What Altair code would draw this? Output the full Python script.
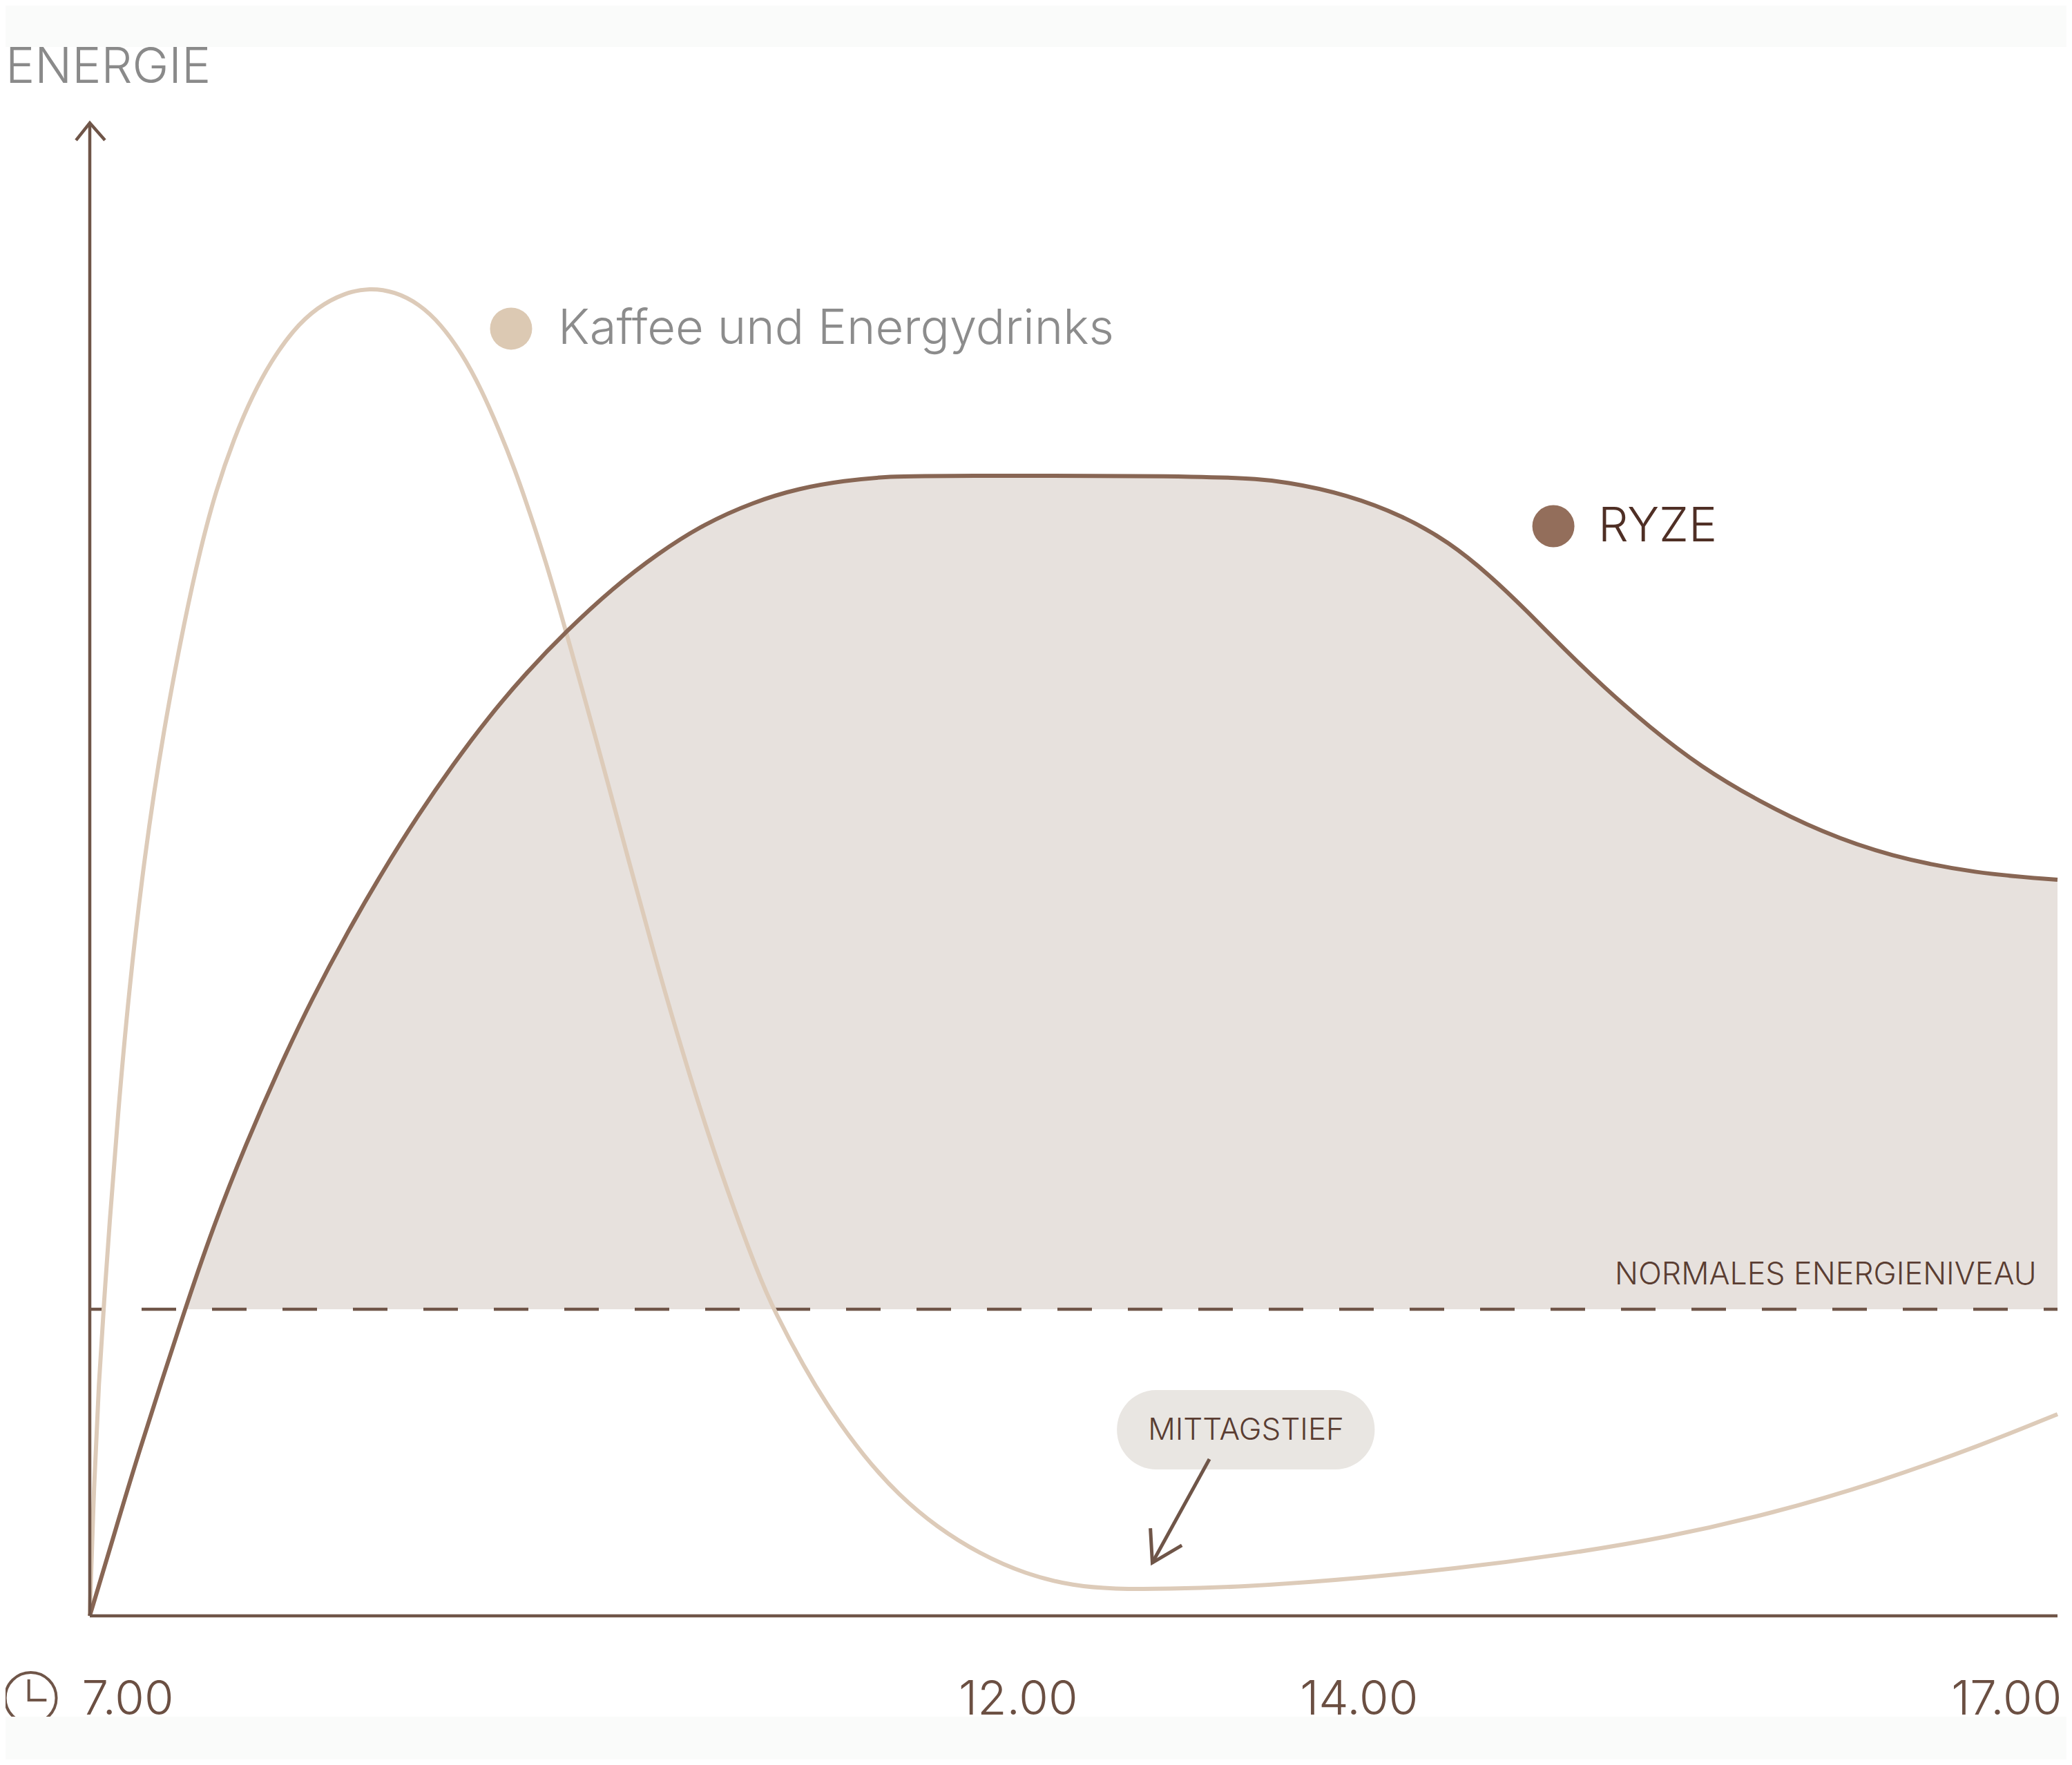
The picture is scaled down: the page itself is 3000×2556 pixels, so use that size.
import altair as alt
import pandas as pd

# Energy curves: hour of the day, energy level
ryze_h = [7.0,7.116,7.232,7.484,7.628,7.79,7.969,8.13,8.309,8.488,8.667,8.846,9.025,9.222,9.422,9.657,9.889,10.12,10.373,10.605,10.836,11.054,11.282,12.802,13.093,13.385,13.676,13.908,14.111,14.315,14.49,14.694,14.926,15.189,15.48,15.8,16.147,16.586,17.0]
ryze_e = [0,5.09,10.27,20.58,26.09,31.5,36.91,41.35,45.79,49.86,53.61,57.03,60.18,63.23,65.96,68.83,71.18,73.13,74.61,75.53,76.04,76.32,76.37,76.37,75.95,75.12,73.68,71.92,69.75,67.16,64.8,62.21,59.53,56.85,54.58,52.5,50.88,49.72,49.31]
coffee_h = [7.0,7.021,7.046,7.074,7.098,7.144,7.197,7.277,7.376,7.484,7.562,7.639,7.734,7.828,7.92,8.032,8.155,8.295,8.422,8.548,8.674,8.783,8.892,8.987,9.081,9.159,9.236,9.317,9.394,9.506,9.566,9.633,9.727,9.889,10.05,10.212,10.401,10.482,10.626,10.77,10.931,11.11,11.307,11.521,11.756,12.005,12.202,12.472,12.862,13.399,13.936,14.473,15.01,15.547,16.084,16.621,17.0]
coffee_e = [0,8.79,15.73,21.28,25.9,33.77,41.63,50.88,59.44,66.84,71.46,75.3,78.91,81.78,84.0,86.12,87.65,88.62,88.95,88.71,87.88,86.54,84.55,82.24,79.42,76.83,73.91,70.63,67.16,61.89,59.02,55.78,51.16,43.29,36.08,29.46,22.71,20.35,16.74,13.64,10.73,8.09,5.92,4.16,2.78,1.99,1.8,1.8,1.94,2.45,3.15,4.07,5.23,6.85,8.93,11.47,13.51]
normal_level = 20.54

tick_labels = ["7.00", "12.00", "14.00", "17.00"]
tick_pos = [6.96, 11.416, 13.15, 16.46]
tick_y = -6.61

C_AXIS = "#6f5548"
C_RYZE = "#886654"
C_COFFEE = "#ddcbb9"
C_FILL = "#e7e1dd"
C_BAND = "#fafbfa"
C_TEXT = "#5a3d32"
FONT = "Inter"

xs = alt.Scale(domain=[7, 17], range=[122, 2971], nice=False, zero=False)
ys = alt.Scale(domain=[0, 100], range=[2332, 170], nice=False, zero=False)
X = alt.X("h:Q", scale=xs, axis=None)
Y = alt.Y("e:Q", scale=ys, axis=None)


def line(hs, es, color, width, **kw):
    d = pd.DataFrame({"h": hs, "e": es, "i": range(len(hs))})
    return alt.Chart(d).mark_line(color=color, strokeWidth=width, **kw).encode(x=X, y=Y, order="i:Q")


def label(text, h, e, size, color, align="left", weight=300):
    d = pd.DataFrame({"h": [h], "e": [e], "t": [text]})
    return alt.Chart(d).mark_text(font=FONT, fontSize=size, color=color, align=align,
                                  baseline="alphabetic", fontWeight=weight).encode(x=X, y=Y, text="t:N")


def dot(h, e, size, color, **kw):
    d = pd.DataFrame({"h": [h], "e": [e]})
    return alt.Chart(d).mark_point(size=size, color=color, opacity=1, **kw).encode(x=X, y=Y)


r = pd.DataFrame({"h": ryze_h, "e": ryze_e})
r["base"] = normal_level
area = alt.Chart(r[r.h >= 7.48]).mark_area(color=C_FILL, opacity=1, interpolate="basis").encode(x=X, y=Y, y2="base:Q")

W, H = 2984, 2540
band = alt.Chart(pd.DataFrame({"a": [0]})).mark_rect(color=C_BAND)

layers = [
    area,
    line([7, 17], [normal_level, normal_level], C_AXIS, 4.5, strokeDash=[50, 52], strokeDashOffset=27),
    line(coffee_h, coffee_e, C_COFFEE, 6, interpolate="basis"),
    line(ryze_h, ryze_e, C_RYZE, 6, interpolate="basis"),
    line([7, 7], [0, 100], C_AXIS, 4.5),
    line([7, 17], [0, 0], C_AXIS, 4.5),
    line([6.93, 7, 7.077], [98.84, 100, 98.84], C_AXIS, 4.5),
    # pill and arrow
    alt.Chart(pd.DataFrame({"h": [12.22], "h2": [13.53], "e": [15.12], "e2": [9.81]})).mark_rect(
        color="#e9e6e2", cornerRadius=57).encode(x=X, x2="h2:Q", y=Y, y2="e2:Q"),
    label("MITTAGSTIEF", 12.876, 11.8, 44, C_TEXT, align="center"),
    line([12.69, 12.40], [10.5, 3.56], C_AXIS, 5),
    line([12.39, 12.40, 12.55], [5.87, 3.56, 4.72], C_AXIS, 5),
    # clock
    dot(6.70, -5.5, 5476, C_AXIS, filled=False, strokeWidth=4),
    line([6.69, 6.69, 6.78], [-4.26, -5.64, -5.64], C_AXIS, 4),
    # bands
    band.encode(x=alt.value(0), x2=alt.value(W), y=alt.value(0), y2=alt.value(60)),
    band.encode(x=alt.value(0), x2=alt.value(W), y=alt.value(2478), y2=alt.value(H)),
    # text
    label("ENERGIE", 6.572, 102.7, 71, "#8a8a8a"),
    dot(9.141, 86.22, 3721, "#dcc9b3", filled=True),
    label("Kaffee und Energydrinks", 9.38, 85.2, 70.5, "#8c8c8c"),
    dot(14.438, 72.99, 3721, "#936e5b", filled=True),
    label("RYZE", 14.666, 71.97, 69, "#4f2f25"),
    label("NORMALES ENERGIENIVEAU", 14.75, 22.2, 44.7, C_TEXT),
]
for t, p in zip(tick_labels, tick_pos):
    layers.append(label(t, p, tick_y, 69, "#6b4f42"))

chart = alt.layer(*layers).properties(
    width=W, height=H, padding=0,
    autosize=alt.AutoSizeParams(type="none"),
).configure_view(stroke=None)
chart.save("out.html", embed_options={"renderer": "svg", "actions": False})
